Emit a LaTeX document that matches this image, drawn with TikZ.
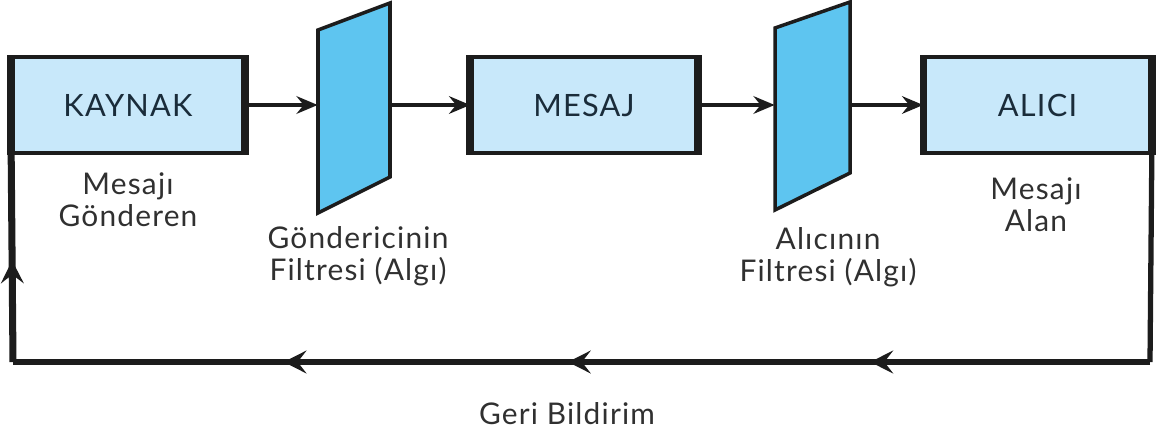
\documentclass[tikz,border=0pt]{standalone}
\usepackage{fontspec}
\setmainfont{Lato}[LetterSpace=4]
\usepackage{xcolor}
\usetikzlibrary{positioning,arrows.meta,calc,decorations.markings}

\definecolor{boxblue}{HTML}{C8E8FA}
\definecolor{filterblue}{HTML}{5EC5F0}
\definecolor{inkline}{HTML}{1C1C1C}
\definecolor{boxtext}{HTML}{1A2C3A}
\definecolor{lbltext}{HTML}{303030}

\tikzset{
  unitbox/.style={draw=inkline, fill=boxblue, line width=2.1pt, minimum height=1.92cm,
    text=boxtext, font=\fontsize{17.5}{20}\selectfont, inner sep=0pt},
  sideline/.style={draw=inkline, line width=4.2pt},
  filterpane/.style={draw=inkline, fill=filterblue, line width=2pt, line join=miter},
  flow/.style={draw=inkline, line width=2.2pt, -{Stealth[length=12pt,width=10pt,inset=4pt]}},
  fbline/.style={draw=inkline, line width=3pt},
  lbl/.style={text=lbltext, align=center, font=\fontsize{17}{18}\selectfont, inner sep=0pt}
}
\newcommand{\fbarrow}{\arrow{Stealth[length=13pt,width=13pt,inset=5pt]}}

\begin{document}
\begin{tikzpicture}[x=0.02cm, y=-0.02cm]
\useasboundingbox (0,0) rectangle (1156,439);

% kutular
\node[unitbox, minimum width=4.6cm] (kaynak) at (128,105) {KAYNAK};
\node[unitbox, minimum width=4.48cm] (mesaj) at (584,105) {MESAJ};
\node[unitbox, minimum width=4.5cm] (alici) at (1037.5,105) {ALICI};
\foreach \n in {kaynak,mesaj,alici} {
  \draw[sideline] (\n.north west) -- (\n.south west);
  \draw[sideline] (\n.north east) -- (\n.south east);
}

% filtreler
\draw[filterpane] (318,30) -- (390,3) -- (390,177) -- (318,213) -- cycle;
\node[minimum width=1.44cm, minimum height=2cm, inner sep=0pt] (gfiltre) at (354,105) {};
\draw[filterpane] (775,28) -- (850,2) -- (850,173) -- (775,210) -- cycle;
\node[minimum width=1.5cm, minimum height=2cm, inner sep=0pt] (afiltre) at (812.5,105) {};

% akis oklari
\draw[flow] (kaynak.east) -- (gfiltre.west);
\draw[flow] (gfiltre.east) -- (mesaj.west);
\draw[flow] (mesaj.east) -- (afiltre.west);
\draw[flow] (afiltre.east) -- (alici.west);

% geri bildirim
\coordinate (fbR) at (1150,362);
\coordinate (fbL) at (13,362);
\draw[fbline] (alici.south east) -- (fbR);
\draw[fbline, postaction={decorate}, decoration={markings,
    mark=at position 0.246 with {\fbarrow},
    mark=at position 0.512 with {\fbarrow},
    mark=at position 0.762 with {\fbarrow}}]
  (fbR) -- (fbL);
\draw[fbline, line width=4pt, postaction={decorate}, decoration={markings,
    mark=at position 0.49 with {\fbarrow}}]
  (fbL) -- (kaynak.south west);

% etiketler
\node[lbl] (gonderen) at (128,200) {Mesajı\\Gönderen};
\node[lbl] (gfiltrelbl) at (358,256) {Göndericinin\\Filtresi (Algı)};
\node[lbl] (afiltrelbl) at (828,257) {Alıcının\\Filtresi (Algı)};
\node[lbl] (alan) at (1036,205) {Mesajı\\Alan};
\node[lbl] (geri) at (567,414) {Geri Bildirim};
\end{tikzpicture}
\end{document}
